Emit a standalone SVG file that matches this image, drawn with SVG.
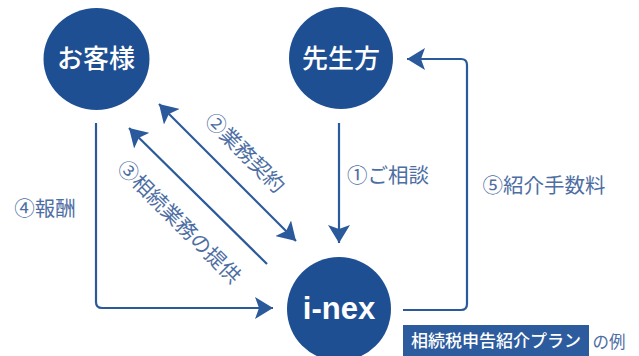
<svg xmlns="http://www.w3.org/2000/svg" width="639" height="356" viewBox="0 0 639 356">
<style>
.c{fill:#1f4f93}
.n{font-family:"Noto Sans CJK JP","Liberation Sans",sans-serif;font-size:26px;font-weight:500;fill:#fff;text-anchor:middle}
.x{font-family:"Liberation Sans",sans-serif;font-size:31px;font-weight:700;fill:#fff;text-anchor:middle}
.l{font-family:"Noto Sans CJK JP","Liberation Sans",sans-serif;font-size:20.500px;fill:#4d6ea3;text-anchor:middle}
.w{fill:none;stroke:#2a5a9b;stroke-width:2.2}
.b{font-family:"Noto Sans CJK JP",sans-serif;font-size:17px;font-weight:500;fill:#fff;text-anchor:middle}
.e{font-family:"Noto Sans CJK JP",sans-serif;font-size:16.500px;fill:#4d6ea3;text-anchor:middle}
</style>
<defs>
<marker id="a" markerUnits="userSpaceOnUse" markerWidth="20" markerHeight="22" refX="18" refY="11" orient="auto-start-reverse" viewBox="0 0 20 22">
<path d="M0 0L18 11L0 22L4 11Z" fill="#2a5a9b"/>
</marker>
</defs>
<rect width="639" height="356" fill="#fff"/>
<g id="connectors">
<path class="w" marker-end="url(#a)" d="M339 123V243"/>
<path class="w" marker-end="url(#a)" d="M96 123V302Q96 308 102 308H273"/>
<path class="w" marker-end="url(#a)" d="M403 310H461Q467 310 467 304V65Q467 59 461 59H407"/>
<path class="w" marker-end="url(#a)" d="M267 264L129 128"/>
<path class="w" marker-start="url(#a)" marker-end="url(#a)" d="M159 104L296 241"/>
</g>
<g id="okyakusama"><ellipse class="c" cx="96.500" cy="59" rx="53" ry="51"/><text class="n" x="96" y="68">お客様</text></g>
<g id="senseigata"><ellipse class="c" cx="341" cy="58" rx="52" ry="51"/><text class="n" x="341" y="68">先生方</text></g>
<g id="inex"><circle class="c" cx="339" cy="309" r="52"/><text class="x" x="339" y="319">i-nex</text></g>
<g id="labels">
<text class="l" x="388" y="183">①ご相談</text>
<text class="l" x="544" y="193">⑤紹介手数料</text>
<text class="l" x="45" y="216">④報酬</text>
<text class="l" transform="translate(245 153) rotate(45)" y="7">②業務契約</text>
<text class="l" transform="translate(179 222) rotate(45)" y="7">③相続業務の提供</text>
</g>
<g id="plan">
<rect x="403" y="325" width="186" height="31" fill="#2c5c9e"/>
<text class="b" x="496" y="347">相続税申告紹介プラン</text>
<text class="e" x="609" y="348">の例</text>
</g>
</svg>
